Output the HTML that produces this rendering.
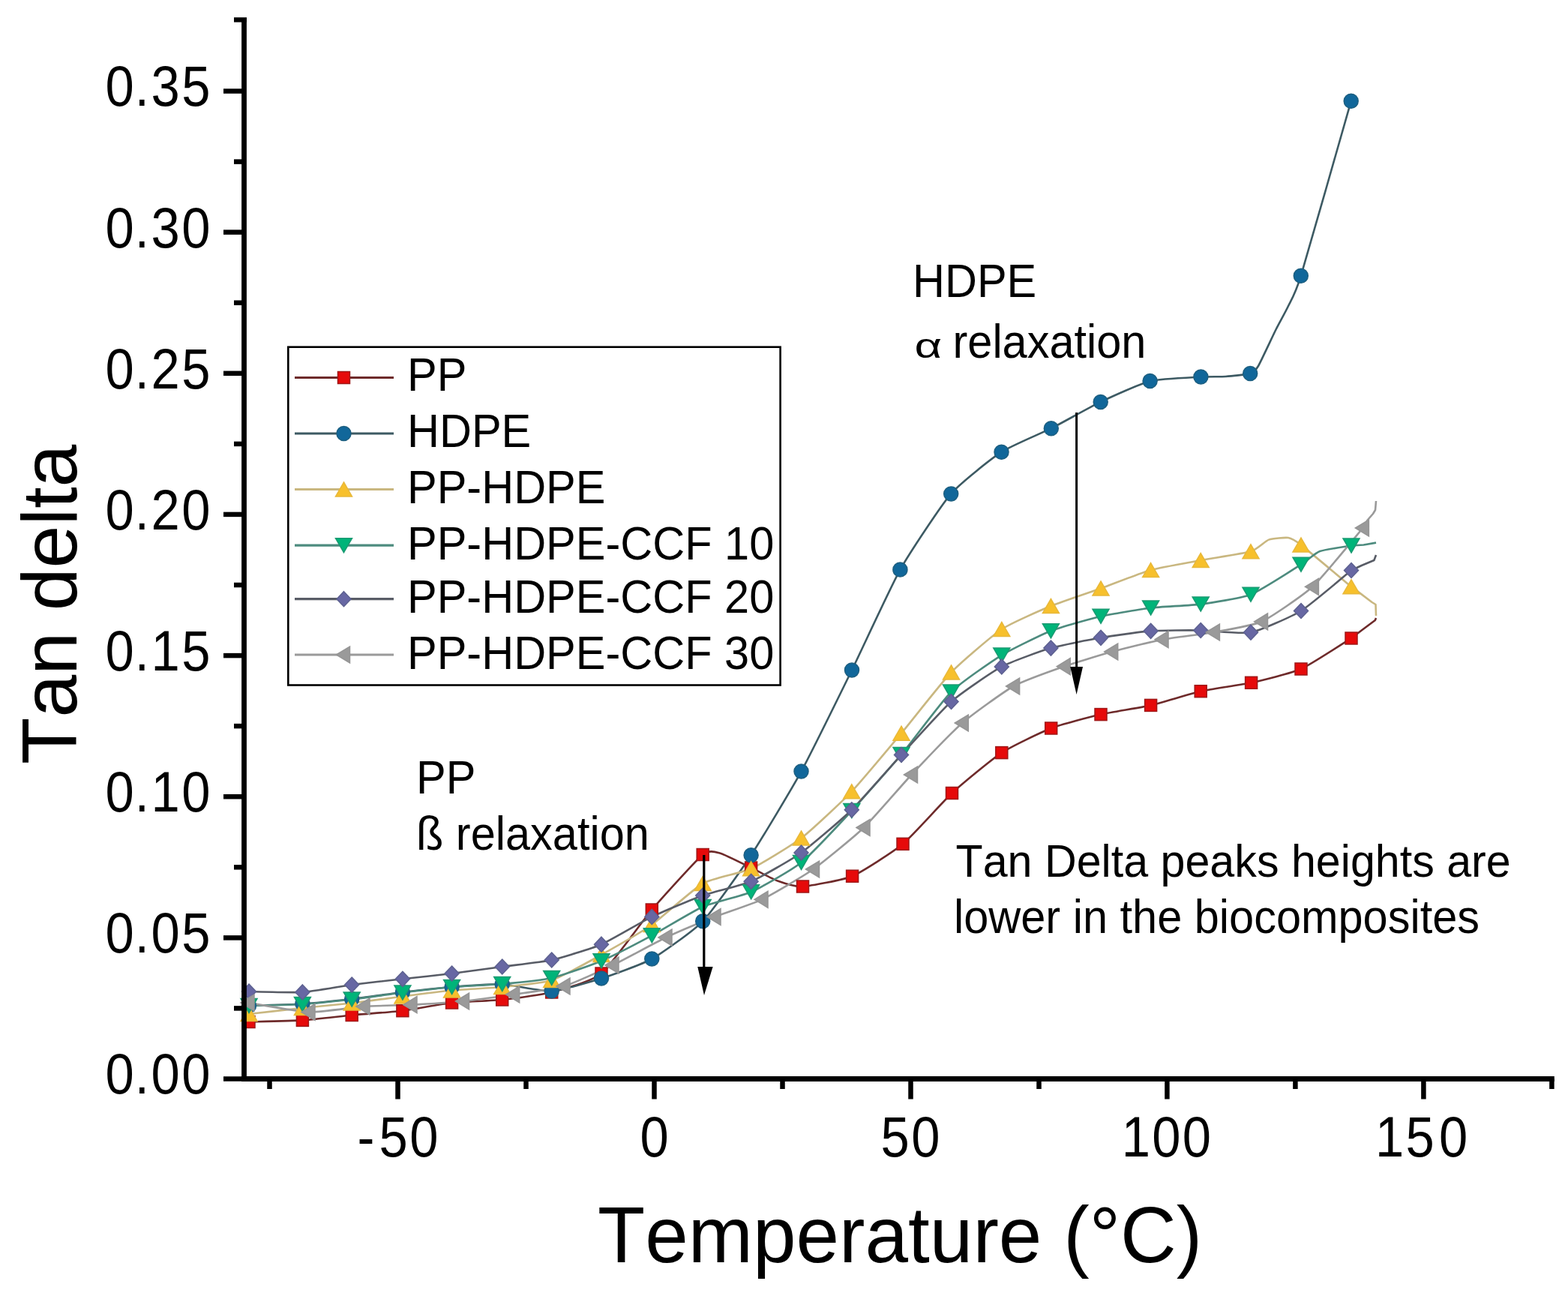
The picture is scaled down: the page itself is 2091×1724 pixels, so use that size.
<!DOCTYPE html>
<html><head><meta charset="utf-8"><title>Tan delta vs Temperature</title>
<style>html,body{margin:0;padding:0;background:#fff;}body{width:2091px;height:1724px;overflow:hidden;}svg{display:block;}text{font-family:"Liberation Sans",Arial,Helvetica,sans-serif;fill:#000;font-kerning:none;}</style>
</head><body>
<svg width="2091" height="1724" viewBox="0 0 2091 1724">
<rect width="2091" height="1724" fill="#fff"/>
<g fill="none" stroke-width="2.6" stroke-linejoin="round" stroke-linecap="butt">
<path d="M332.0,1362.5 C338.5,1362.3 390.8,1361.2 403.4,1360.4 C416.0,1359.6 457.0,1354.7 469.2,1353.5 C481.4,1352.3 524.7,1349.2 536.9,1347.7 C549.1,1346.2 590.4,1338.3 602.6,1337.0 C614.8,1335.7 657.5,1334.3 669.7,1333.0 C681.9,1331.7 723.6,1326.2 735.7,1323.0 C747.8,1319.8 789.8,1308.1 802.0,1298.0 C814.2,1287.9 856.9,1227.5 869.3,1213.0 C881.7,1198.5 928.8,1146.4 937.2,1139.5 C945.6,1132.6 954.7,1136.1 960.6,1137.7 C966.5,1139.3 994.6,1153.6 1001.6,1157.0 C1008.6,1160.4 1030.7,1172.2 1037.0,1174.5 C1043.3,1176.8 1061.4,1182.6 1070.5,1182.0 C1079.6,1181.4 1124.4,1173.4 1136.6,1168.2 C1148.8,1163.0 1191.8,1135.4 1204.0,1125.3 C1216.2,1115.2 1257.4,1068.7 1269.5,1057.5 C1281.6,1046.3 1323.7,1011.5 1335.8,1003.6 C1347.9,995.7 1389.6,975.7 1401.7,971.0 C1413.8,966.3 1455.8,955.4 1468.0,952.6 C1480.2,949.8 1522.4,943.2 1534.6,940.4 C1546.8,937.6 1588.9,924.5 1601.2,921.7 C1613.5,918.9 1656.3,913.0 1668.6,910.3 C1680.9,907.6 1722.8,897.4 1735.0,892.0 C1747.2,886.6 1795.9,854.8 1802.0,851.0 L1815.7,840.5 L1833.8,827.0 L1835.0,824.0" stroke="#6e2a2a"/>
<path d="M332.0,1341.0 C338.5,1340.8 390.8,1339.3 403.4,1338.5 C416.0,1337.7 457.0,1333.4 469.2,1332.0 C481.4,1330.6 524.7,1324.5 536.9,1323.0 C549.1,1321.5 590.4,1317.0 602.6,1316.0 C614.8,1315.0 657.5,1312.0 669.7,1312.5 C681.9,1313.0 723.6,1322.2 735.7,1321.5 C747.8,1320.8 789.8,1308.5 802.0,1304.6 C814.2,1300.7 856.9,1285.5 869.3,1278.5 C881.7,1271.5 925.1,1241.0 937.2,1228.3 C949.3,1215.6 989.6,1158.6 1001.6,1140.3 C1013.6,1122.0 1056.2,1051.2 1068.5,1028.6 C1080.8,1006.0 1123.9,918.2 1136.0,893.5 C1148.1,868.8 1188.3,781.2 1200.4,759.6 C1212.5,738.0 1255.8,672.8 1268.2,658.4 C1280.6,644.0 1323.3,610.7 1335.5,602.7 C1347.7,594.7 1389.7,577.3 1401.8,571.2 C1413.9,565.1 1455.6,541.7 1467.7,535.9 C1479.8,530.1 1521.3,511.2 1533.6,508.1 C1545.9,505.0 1592.2,503.1 1601.4,502.5 C1610.6,501.9 1628.5,502.4 1634.5,502.0 C1640.5,501.6 1663.2,499.4 1667.2,498.1 C1671.2,496.8 1674.8,493.4 1678.0,488.0 C1681.2,482.6 1698.0,446.3 1701.7,439.0 C1705.4,431.7 1715.0,414.5 1718.0,408.0 C1721.0,401.5 1727.1,392.8 1734.8,367.8 C1742.5,342.8 1795.6,156.2 1801.7,134.8" stroke="#3d5a63"/>
<path d="M332.0,1352.0 C338.5,1351.3 390.8,1345.3 403.4,1344.0 C416.0,1342.7 457.0,1338.9 469.2,1337.5 C481.4,1336.1 524.7,1330.1 536.9,1328.5 C549.1,1326.9 590.4,1321.6 602.6,1320.5 C614.8,1319.4 657.5,1317.2 669.7,1316.0 C681.9,1314.8 723.6,1310.9 735.7,1307.0 C747.8,1303.1 789.8,1279.8 802.0,1273.0 C814.2,1266.2 856.9,1241.7 869.3,1233.0 C881.7,1224.3 925.1,1184.8 937.2,1178.0 C949.3,1171.2 989.6,1163.8 1001.6,1158.3 C1013.6,1152.8 1056.2,1126.9 1068.5,1117.5 C1080.8,1108.1 1123.6,1068.1 1135.8,1055.3 C1148.0,1042.5 1189.8,992.3 1202.0,977.7 C1214.2,963.1 1256.2,909.2 1268.5,896.5 C1280.8,883.8 1323.6,847.1 1335.8,839.0 C1348.0,830.9 1389.3,813.0 1401.4,808.0 C1413.5,803.0 1455.8,788.9 1468.0,784.5 C1480.2,780.1 1522.4,763.5 1534.6,760.1 C1546.8,756.7 1589.0,749.4 1601.2,747.1 C1613.4,744.8 1659.7,737.8 1668.0,735.3 C1676.3,732.8 1687.4,721.3 1692.0,719.6 C1696.6,717.9 1714.1,716.4 1718.0,717.0 C1721.9,717.6 1727.3,720.6 1735.0,726.6 C1742.7,732.6 1795.9,777.2 1802.0,782.3 L1813.0,790.4 L1829.6,803.0 L1834.5,806.0 L1835.0,821.0" stroke="#c9b780"/>
<path d="M332.0,1341.0 C338.5,1340.8 390.8,1339.8 403.4,1339.0 C416.0,1338.2 457.0,1333.9 469.2,1332.5 C481.4,1331.1 524.7,1325.0 536.9,1323.5 C549.1,1322.0 590.4,1317.1 602.6,1316.0 C614.8,1314.9 657.5,1313.1 669.7,1312.0 C681.9,1310.9 723.6,1306.8 735.7,1304.0 C747.8,1301.2 789.8,1286.5 802.0,1281.3 C814.2,1276.1 856.9,1253.9 869.3,1247.3 C881.7,1240.7 925.1,1214.3 937.2,1209.0 C949.3,1203.7 989.6,1194.7 1001.6,1189.3 C1013.6,1183.9 1056.2,1159.9 1068.5,1150.0 C1080.8,1140.1 1123.6,1094.2 1135.8,1081.0 C1148.0,1067.8 1189.8,1020.5 1202.0,1006.0 C1214.2,991.5 1256.2,934.6 1268.5,922.5 C1280.8,910.4 1323.6,881.0 1335.8,873.6 C1348.0,866.2 1389.3,846.0 1401.4,841.3 C1413.5,836.6 1455.8,824.6 1468.0,821.8 C1480.2,819.0 1522.4,812.0 1534.6,810.5 C1546.8,809.0 1589.0,807.2 1601.2,805.6 C1613.4,804.0 1655.7,797.5 1668.0,792.7 C1680.3,787.9 1726.6,758.0 1735.0,752.7 C1743.4,747.4 1753.9,737.3 1760.0,735.0 C1766.1,732.7 1798.2,728.2 1802.0,727.5 L1818.5,726.5 L1835.0,723.6" stroke="#4d8b7e"/>
<path d="M332.0,1322.1 C338.5,1322.2 390.8,1323.7 403.4,1322.9 C416.0,1322.1 457.0,1314.6 469.2,1313.0 C481.4,1311.4 524.7,1306.7 536.9,1305.3 C549.1,1303.9 590.4,1299.5 602.6,1298.0 C614.8,1296.5 657.5,1290.7 669.7,1289.0 C681.9,1287.3 723.6,1282.7 735.7,1280.0 C747.8,1277.3 789.8,1264.5 802.0,1259.2 C814.2,1253.9 856.9,1228.4 869.3,1222.4 C881.7,1216.4 925.1,1198.3 937.2,1194.0 C949.3,1189.7 989.6,1180.5 1001.6,1175.3 C1013.6,1170.1 1056.2,1145.8 1068.5,1137.0 C1080.8,1128.2 1123.6,1091.8 1135.8,1079.8 C1148.0,1067.8 1189.8,1019.7 1202.0,1006.5 C1214.2,993.3 1256.2,946.3 1268.5,935.5 C1280.8,924.7 1323.6,895.4 1335.8,888.9 C1348.0,882.4 1389.3,867.6 1401.4,864.1 C1413.5,860.6 1455.8,852.4 1468.0,850.3 C1480.2,848.2 1522.4,842.2 1534.6,841.3 C1546.8,840.4 1589.0,840.3 1601.2,840.5 C1613.4,840.7 1655.7,845.6 1668.0,843.2 C1680.3,840.8 1722.7,822.1 1735.0,814.5 C1747.3,806.9 1795.9,765.5 1802.0,760.5 L1815.7,754.0 L1832.4,747.0 L1835.0,740.0" stroke="#585c66"/>
<path d="M331.0,1337.0 C338.4,1338.1 397.9,1349.0 412.0,1349.5 C426.1,1350.0 472.5,1342.9 485.0,1342.0 C497.5,1341.1 535.9,1340.3 548.0,1339.7 C560.1,1339.1 605.0,1336.3 617.5,1335.0 C630.0,1333.7 672.4,1327.8 684.7,1326.0 C697.0,1324.2 739.9,1318.6 752.0,1315.0 C764.1,1311.4 804.5,1293.0 817.0,1287.0 C829.5,1281.0 875.5,1255.9 888.0,1250.0 C900.5,1244.1 941.3,1227.1 953.0,1222.5 C964.7,1217.9 1003.9,1205.1 1016.0,1199.3 C1028.1,1193.5 1072.0,1167.8 1084.5,1159.0 C1097.0,1150.2 1140.0,1115.0 1152.0,1103.5 C1164.0,1092.0 1203.5,1045.8 1215.5,1033.0 C1227.5,1020.2 1270.8,974.8 1283.3,964.0 C1295.8,953.2 1339.1,921.9 1351.6,915.0 C1364.1,908.1 1407.2,892.8 1419.2,888.6 C1431.2,884.4 1470.7,872.3 1482.7,869.0 C1494.7,865.7 1537.6,855.1 1550.0,852.7 C1562.4,850.3 1606.3,845.2 1618.4,843.0 C1630.5,840.8 1670.4,834.4 1682.5,828.8 C1694.6,823.2 1738.0,793.7 1750.4,782.3 C1762.8,770.9 1811.3,711.2 1817.4,704.0 L1824.0,693.0 L1831.0,685.0 L1834.0,680.0 L1835.0,668.0" stroke="#9a9a9a"/>
</g>
<g>
<rect x="324.0" y="1354.5" width="16.0" height="16.0" fill="#e60a0a" stroke="#a01818" stroke-width="1.5"/>
<rect x="395.4" y="1352.4" width="16.0" height="16.0" fill="#e60a0a" stroke="#a01818" stroke-width="1.5"/>
<rect x="461.2" y="1345.5" width="16.0" height="16.0" fill="#e60a0a" stroke="#a01818" stroke-width="1.5"/>
<rect x="528.9" y="1339.7" width="16.0" height="16.0" fill="#e60a0a" stroke="#a01818" stroke-width="1.5"/>
<rect x="594.6" y="1329.0" width="16.0" height="16.0" fill="#e60a0a" stroke="#a01818" stroke-width="1.5"/>
<rect x="661.7" y="1325.0" width="16.0" height="16.0" fill="#e60a0a" stroke="#a01818" stroke-width="1.5"/>
<rect x="727.7" y="1315.0" width="16.0" height="16.0" fill="#e60a0a" stroke="#a01818" stroke-width="1.5"/>
<rect x="794.0" y="1290.0" width="16.0" height="16.0" fill="#e60a0a" stroke="#a01818" stroke-width="1.5"/>
<rect x="861.3" y="1205.0" width="16.0" height="16.0" fill="#e60a0a" stroke="#a01818" stroke-width="1.5"/>
<rect x="929.2" y="1131.5" width="16.0" height="16.0" fill="#e60a0a" stroke="#a01818" stroke-width="1.5"/>
<rect x="993.6" y="1149.0" width="16.0" height="16.0" fill="#e60a0a" stroke="#a01818" stroke-width="1.5"/>
<rect x="1062.5" y="1174.0" width="16.0" height="16.0" fill="#e60a0a" stroke="#a01818" stroke-width="1.5"/>
<rect x="1128.6" y="1160.2" width="16.0" height="16.0" fill="#e60a0a" stroke="#a01818" stroke-width="1.5"/>
<rect x="1196.0" y="1117.3" width="16.0" height="16.0" fill="#e60a0a" stroke="#a01818" stroke-width="1.5"/>
<rect x="1261.5" y="1049.5" width="16.0" height="16.0" fill="#e60a0a" stroke="#a01818" stroke-width="1.5"/>
<rect x="1327.8" y="995.6" width="16.0" height="16.0" fill="#e60a0a" stroke="#a01818" stroke-width="1.5"/>
<rect x="1393.7" y="963.0" width="16.0" height="16.0" fill="#e60a0a" stroke="#a01818" stroke-width="1.5"/>
<rect x="1460.0" y="944.6" width="16.0" height="16.0" fill="#e60a0a" stroke="#a01818" stroke-width="1.5"/>
<rect x="1526.6" y="932.4" width="16.0" height="16.0" fill="#e60a0a" stroke="#a01818" stroke-width="1.5"/>
<rect x="1593.2" y="913.7" width="16.0" height="16.0" fill="#e60a0a" stroke="#a01818" stroke-width="1.5"/>
<rect x="1660.6" y="902.3" width="16.0" height="16.0" fill="#e60a0a" stroke="#a01818" stroke-width="1.5"/>
<rect x="1727.0" y="884.0" width="16.0" height="16.0" fill="#e60a0a" stroke="#a01818" stroke-width="1.5"/>
<rect x="1794.0" y="843.0" width="16.0" height="16.0" fill="#e60a0a" stroke="#a01818" stroke-width="1.5"/>
</g>
<g>
<circle cx="332.0" cy="1341.0" r="9.5" fill="#11679a" stroke="#1d5f80" stroke-width="1.5"/>
<circle cx="403.4" cy="1338.5" r="9.5" fill="#11679a" stroke="#1d5f80" stroke-width="1.5"/>
<circle cx="469.2" cy="1332.0" r="9.5" fill="#11679a" stroke="#1d5f80" stroke-width="1.5"/>
<circle cx="536.9" cy="1323.0" r="9.5" fill="#11679a" stroke="#1d5f80" stroke-width="1.5"/>
<circle cx="602.6" cy="1316.0" r="9.5" fill="#11679a" stroke="#1d5f80" stroke-width="1.5"/>
<circle cx="669.7" cy="1312.5" r="9.5" fill="#11679a" stroke="#1d5f80" stroke-width="1.5"/>
<circle cx="735.7" cy="1321.5" r="9.5" fill="#11679a" stroke="#1d5f80" stroke-width="1.5"/>
<circle cx="802.0" cy="1304.6" r="9.5" fill="#11679a" stroke="#1d5f80" stroke-width="1.5"/>
<circle cx="869.3" cy="1278.5" r="9.5" fill="#11679a" stroke="#1d5f80" stroke-width="1.5"/>
<circle cx="937.2" cy="1228.3" r="9.5" fill="#11679a" stroke="#1d5f80" stroke-width="1.5"/>
<circle cx="1001.6" cy="1140.3" r="9.5" fill="#11679a" stroke="#1d5f80" stroke-width="1.5"/>
<circle cx="1068.5" cy="1028.6" r="9.5" fill="#11679a" stroke="#1d5f80" stroke-width="1.5"/>
<circle cx="1136.0" cy="893.5" r="9.5" fill="#11679a" stroke="#1d5f80" stroke-width="1.5"/>
<circle cx="1200.4" cy="759.6" r="9.5" fill="#11679a" stroke="#1d5f80" stroke-width="1.5"/>
<circle cx="1268.2" cy="658.4" r="9.5" fill="#11679a" stroke="#1d5f80" stroke-width="1.5"/>
<circle cx="1335.5" cy="602.7" r="9.5" fill="#11679a" stroke="#1d5f80" stroke-width="1.5"/>
<circle cx="1401.8" cy="571.2" r="9.5" fill="#11679a" stroke="#1d5f80" stroke-width="1.5"/>
<circle cx="1467.7" cy="535.9" r="9.5" fill="#11679a" stroke="#1d5f80" stroke-width="1.5"/>
<circle cx="1533.6" cy="508.1" r="9.5" fill="#11679a" stroke="#1d5f80" stroke-width="1.5"/>
<circle cx="1601.4" cy="502.5" r="9.5" fill="#11679a" stroke="#1d5f80" stroke-width="1.5"/>
<circle cx="1667.2" cy="498.1" r="9.5" fill="#11679a" stroke="#1d5f80" stroke-width="1.5"/>
<circle cx="1734.8" cy="367.8" r="9.5" fill="#11679a" stroke="#1d5f80" stroke-width="1.5"/>
<circle cx="1801.7" cy="134.8" r="9.5" fill="#11679a" stroke="#1d5f80" stroke-width="1.5"/>
</g>
<g>
<polygon points="332.0,1342.5 343.0,1361.5 321.0,1361.5" fill="#f7c02c" stroke="#e8b83a" stroke-width="1.5"/>
<polygon points="403.4,1334.5 414.4,1353.5 392.4,1353.5" fill="#f7c02c" stroke="#e8b83a" stroke-width="1.5"/>
<polygon points="469.2,1328.0 480.2,1347.0 458.2,1347.0" fill="#f7c02c" stroke="#e8b83a" stroke-width="1.5"/>
<polygon points="536.9,1319.0 547.9,1338.0 525.9,1338.0" fill="#f7c02c" stroke="#e8b83a" stroke-width="1.5"/>
<polygon points="602.6,1311.0 613.6,1330.0 591.6,1330.0" fill="#f7c02c" stroke="#e8b83a" stroke-width="1.5"/>
<polygon points="669.7,1306.5 680.7,1325.5 658.7,1325.5" fill="#f7c02c" stroke="#e8b83a" stroke-width="1.5"/>
<polygon points="735.7,1297.5 746.7,1316.5 724.7,1316.5" fill="#f7c02c" stroke="#e8b83a" stroke-width="1.5"/>
<polygon points="802.0,1263.5 813.0,1282.5 791.0,1282.5" fill="#f7c02c" stroke="#e8b83a" stroke-width="1.5"/>
<polygon points="869.3,1223.5 880.3,1242.5 858.3,1242.5" fill="#f7c02c" stroke="#e8b83a" stroke-width="1.5"/>
<polygon points="937.2,1168.5 948.2,1187.5 926.2,1187.5" fill="#f7c02c" stroke="#e8b83a" stroke-width="1.5"/>
<polygon points="1001.6,1148.8 1012.6,1167.8 990.6,1167.8" fill="#f7c02c" stroke="#e8b83a" stroke-width="1.5"/>
<polygon points="1068.5,1108.0 1079.5,1127.0 1057.5,1127.0" fill="#f7c02c" stroke="#e8b83a" stroke-width="1.5"/>
<polygon points="1135.8,1045.8 1146.8,1064.8 1124.8,1064.8" fill="#f7c02c" stroke="#e8b83a" stroke-width="1.5"/>
<polygon points="1202.0,968.2 1213.0,987.2 1191.0,987.2" fill="#f7c02c" stroke="#e8b83a" stroke-width="1.5"/>
<polygon points="1268.5,887.0 1279.5,906.0 1257.5,906.0" fill="#f7c02c" stroke="#e8b83a" stroke-width="1.5"/>
<polygon points="1335.8,829.5 1346.8,848.5 1324.8,848.5" fill="#f7c02c" stroke="#e8b83a" stroke-width="1.5"/>
<polygon points="1401.4,798.5 1412.4,817.5 1390.4,817.5" fill="#f7c02c" stroke="#e8b83a" stroke-width="1.5"/>
<polygon points="1468.0,775.0 1479.0,794.0 1457.0,794.0" fill="#f7c02c" stroke="#e8b83a" stroke-width="1.5"/>
<polygon points="1534.6,750.6 1545.6,769.6 1523.6,769.6" fill="#f7c02c" stroke="#e8b83a" stroke-width="1.5"/>
<polygon points="1601.2,737.6 1612.2,756.6 1590.2,756.6" fill="#f7c02c" stroke="#e8b83a" stroke-width="1.5"/>
<polygon points="1668.0,725.8 1679.0,744.8 1657.0,744.8" fill="#f7c02c" stroke="#e8b83a" stroke-width="1.5"/>
<polygon points="1735.0,717.1 1746.0,736.1 1724.0,736.1" fill="#f7c02c" stroke="#e8b83a" stroke-width="1.5"/>
<polygon points="1802.0,772.8 1813.0,791.8 1791.0,791.8" fill="#f7c02c" stroke="#e8b83a" stroke-width="1.5"/>
</g>
<g>
<polygon points="332.0,1350.5 343.0,1331.5 321.0,1331.5" fill="#00b479" stroke="#1a9a72" stroke-width="1.5"/>
<polygon points="403.4,1348.5 414.4,1329.5 392.4,1329.5" fill="#00b479" stroke="#1a9a72" stroke-width="1.5"/>
<polygon points="469.2,1342.0 480.2,1323.0 458.2,1323.0" fill="#00b479" stroke="#1a9a72" stroke-width="1.5"/>
<polygon points="536.9,1333.0 547.9,1314.0 525.9,1314.0" fill="#00b479" stroke="#1a9a72" stroke-width="1.5"/>
<polygon points="602.6,1325.5 613.6,1306.5 591.6,1306.5" fill="#00b479" stroke="#1a9a72" stroke-width="1.5"/>
<polygon points="669.7,1321.5 680.7,1302.5 658.7,1302.5" fill="#00b479" stroke="#1a9a72" stroke-width="1.5"/>
<polygon points="735.7,1313.5 746.7,1294.5 724.7,1294.5" fill="#00b479" stroke="#1a9a72" stroke-width="1.5"/>
<polygon points="802.0,1290.8 813.0,1271.8 791.0,1271.8" fill="#00b479" stroke="#1a9a72" stroke-width="1.5"/>
<polygon points="869.3,1256.8 880.3,1237.8 858.3,1237.8" fill="#00b479" stroke="#1a9a72" stroke-width="1.5"/>
<polygon points="937.2,1218.5 948.2,1199.5 926.2,1199.5" fill="#00b479" stroke="#1a9a72" stroke-width="1.5"/>
<polygon points="1001.6,1198.8 1012.6,1179.8 990.6,1179.8" fill="#00b479" stroke="#1a9a72" stroke-width="1.5"/>
<polygon points="1068.5,1159.5 1079.5,1140.5 1057.5,1140.5" fill="#00b479" stroke="#1a9a72" stroke-width="1.5"/>
<polygon points="1135.8,1090.5 1146.8,1071.5 1124.8,1071.5" fill="#00b479" stroke="#1a9a72" stroke-width="1.5"/>
<polygon points="1202.0,1015.5 1213.0,996.5 1191.0,996.5" fill="#00b479" stroke="#1a9a72" stroke-width="1.5"/>
<polygon points="1268.5,932.0 1279.5,913.0 1257.5,913.0" fill="#00b479" stroke="#1a9a72" stroke-width="1.5"/>
<polygon points="1335.8,883.1 1346.8,864.1 1324.8,864.1" fill="#00b479" stroke="#1a9a72" stroke-width="1.5"/>
<polygon points="1401.4,850.8 1412.4,831.8 1390.4,831.8" fill="#00b479" stroke="#1a9a72" stroke-width="1.5"/>
<polygon points="1468.0,831.3 1479.0,812.3 1457.0,812.3" fill="#00b479" stroke="#1a9a72" stroke-width="1.5"/>
<polygon points="1534.6,820.0 1545.6,801.0 1523.6,801.0" fill="#00b479" stroke="#1a9a72" stroke-width="1.5"/>
<polygon points="1601.2,815.1 1612.2,796.1 1590.2,796.1" fill="#00b479" stroke="#1a9a72" stroke-width="1.5"/>
<polygon points="1668.0,802.2 1679.0,783.2 1657.0,783.2" fill="#00b479" stroke="#1a9a72" stroke-width="1.5"/>
<polygon points="1735.0,762.2 1746.0,743.2 1724.0,743.2" fill="#00b479" stroke="#1a9a72" stroke-width="1.5"/>
<polygon points="1802.0,737.0 1813.0,718.0 1791.0,718.0" fill="#00b479" stroke="#1a9a72" stroke-width="1.5"/>
</g>
<g>
<polygon points="332.0,1312.1 341.5,1322.1 332.0,1332.1 322.5,1322.1" fill="#6767a3" stroke="#5d6190" stroke-width="1.5"/>
<polygon points="403.4,1312.9 412.9,1322.9 403.4,1332.9 393.9,1322.9" fill="#6767a3" stroke="#5d6190" stroke-width="1.5"/>
<polygon points="469.2,1303.0 478.7,1313.0 469.2,1323.0 459.7,1313.0" fill="#6767a3" stroke="#5d6190" stroke-width="1.5"/>
<polygon points="536.9,1295.3 546.4,1305.3 536.9,1315.3 527.4,1305.3" fill="#6767a3" stroke="#5d6190" stroke-width="1.5"/>
<polygon points="602.6,1288.0 612.1,1298.0 602.6,1308.0 593.1,1298.0" fill="#6767a3" stroke="#5d6190" stroke-width="1.5"/>
<polygon points="669.7,1279.0 679.2,1289.0 669.7,1299.0 660.2,1289.0" fill="#6767a3" stroke="#5d6190" stroke-width="1.5"/>
<polygon points="735.7,1270.0 745.2,1280.0 735.7,1290.0 726.2,1280.0" fill="#6767a3" stroke="#5d6190" stroke-width="1.5"/>
<polygon points="802.0,1249.2 811.5,1259.2 802.0,1269.2 792.5,1259.2" fill="#6767a3" stroke="#5d6190" stroke-width="1.5"/>
<polygon points="869.3,1212.4 878.8,1222.4 869.3,1232.4 859.8,1222.4" fill="#6767a3" stroke="#5d6190" stroke-width="1.5"/>
<polygon points="937.2,1184.0 946.7,1194.0 937.2,1204.0 927.7,1194.0" fill="#6767a3" stroke="#5d6190" stroke-width="1.5"/>
<polygon points="1001.6,1165.3 1011.1,1175.3 1001.6,1185.3 992.1,1175.3" fill="#6767a3" stroke="#5d6190" stroke-width="1.5"/>
<polygon points="1068.5,1127.0 1078.0,1137.0 1068.5,1147.0 1059.0,1137.0" fill="#6767a3" stroke="#5d6190" stroke-width="1.5"/>
<polygon points="1135.8,1069.8 1145.3,1079.8 1135.8,1089.8 1126.3,1079.8" fill="#6767a3" stroke="#5d6190" stroke-width="1.5"/>
<polygon points="1202.0,996.5 1211.5,1006.5 1202.0,1016.5 1192.5,1006.5" fill="#6767a3" stroke="#5d6190" stroke-width="1.5"/>
<polygon points="1268.5,925.5 1278.0,935.5 1268.5,945.5 1259.0,935.5" fill="#6767a3" stroke="#5d6190" stroke-width="1.5"/>
<polygon points="1335.8,878.9 1345.3,888.9 1335.8,898.9 1326.3,888.9" fill="#6767a3" stroke="#5d6190" stroke-width="1.5"/>
<polygon points="1401.4,854.1 1410.9,864.1 1401.4,874.1 1391.9,864.1" fill="#6767a3" stroke="#5d6190" stroke-width="1.5"/>
<polygon points="1468.0,840.3 1477.5,850.3 1468.0,860.3 1458.5,850.3" fill="#6767a3" stroke="#5d6190" stroke-width="1.5"/>
<polygon points="1534.6,831.3 1544.1,841.3 1534.6,851.3 1525.1,841.3" fill="#6767a3" stroke="#5d6190" stroke-width="1.5"/>
<polygon points="1601.2,830.5 1610.7,840.5 1601.2,850.5 1591.7,840.5" fill="#6767a3" stroke="#5d6190" stroke-width="1.5"/>
<polygon points="1668.0,833.2 1677.5,843.2 1668.0,853.2 1658.5,843.2" fill="#6767a3" stroke="#5d6190" stroke-width="1.5"/>
<polygon points="1735.0,804.5 1744.5,814.5 1735.0,824.5 1725.5,814.5" fill="#6767a3" stroke="#5d6190" stroke-width="1.5"/>
<polygon points="1802.0,750.5 1811.5,760.5 1802.0,770.5 1792.5,760.5" fill="#6767a3" stroke="#5d6190" stroke-width="1.5"/>
</g>
<g>
<polygon points="321.0,1337.0 339.0,1326.0 339.0,1348.0" fill="#9a9a9a" stroke="#959595" stroke-width="1.5"/>
<polygon points="402.0,1349.5 420.0,1338.5 420.0,1360.5" fill="#9a9a9a" stroke="#959595" stroke-width="1.5"/>
<polygon points="475.0,1342.0 493.0,1331.0 493.0,1353.0" fill="#9a9a9a" stroke="#959595" stroke-width="1.5"/>
<polygon points="538.0,1339.7 556.0,1328.7 556.0,1350.7" fill="#9a9a9a" stroke="#959595" stroke-width="1.5"/>
<polygon points="607.5,1335.0 625.5,1324.0 625.5,1346.0" fill="#9a9a9a" stroke="#959595" stroke-width="1.5"/>
<polygon points="674.7,1326.0 692.7,1315.0 692.7,1337.0" fill="#9a9a9a" stroke="#959595" stroke-width="1.5"/>
<polygon points="742.0,1315.0 760.0,1304.0 760.0,1326.0" fill="#9a9a9a" stroke="#959595" stroke-width="1.5"/>
<polygon points="807.0,1287.0 825.0,1276.0 825.0,1298.0" fill="#9a9a9a" stroke="#959595" stroke-width="1.5"/>
<polygon points="878.0,1250.0 896.0,1239.0 896.0,1261.0" fill="#9a9a9a" stroke="#959595" stroke-width="1.5"/>
<polygon points="943.0,1222.5 961.0,1211.5 961.0,1233.5" fill="#9a9a9a" stroke="#959595" stroke-width="1.5"/>
<polygon points="1006.0,1199.3 1024.0,1188.3 1024.0,1210.3" fill="#9a9a9a" stroke="#959595" stroke-width="1.5"/>
<polygon points="1074.5,1159.0 1092.5,1148.0 1092.5,1170.0" fill="#9a9a9a" stroke="#959595" stroke-width="1.5"/>
<polygon points="1142.0,1103.5 1160.0,1092.5 1160.0,1114.5" fill="#9a9a9a" stroke="#959595" stroke-width="1.5"/>
<polygon points="1205.5,1033.0 1223.5,1022.0 1223.5,1044.0" fill="#9a9a9a" stroke="#959595" stroke-width="1.5"/>
<polygon points="1273.3,964.0 1291.3,953.0 1291.3,975.0" fill="#9a9a9a" stroke="#959595" stroke-width="1.5"/>
<polygon points="1341.6,915.0 1359.6,904.0 1359.6,926.0" fill="#9a9a9a" stroke="#959595" stroke-width="1.5"/>
<polygon points="1409.2,888.6 1427.2,877.6 1427.2,899.6" fill="#9a9a9a" stroke="#959595" stroke-width="1.5"/>
<polygon points="1472.7,869.0 1490.7,858.0 1490.7,880.0" fill="#9a9a9a" stroke="#959595" stroke-width="1.5"/>
<polygon points="1540.0,852.7 1558.0,841.7 1558.0,863.7" fill="#9a9a9a" stroke="#959595" stroke-width="1.5"/>
<polygon points="1608.4,843.0 1626.4,832.0 1626.4,854.0" fill="#9a9a9a" stroke="#959595" stroke-width="1.5"/>
<polygon points="1672.5,828.8 1690.5,817.8 1690.5,839.8" fill="#9a9a9a" stroke="#959595" stroke-width="1.5"/>
<polygon points="1740.4,782.3 1758.4,771.3 1758.4,793.3" fill="#9a9a9a" stroke="#959595" stroke-width="1.5"/>
<polygon points="1807.4,704.0 1825.4,693.0 1825.4,715.0" fill="#9a9a9a" stroke="#959595" stroke-width="1.5"/>
</g>
<g stroke="#000" stroke-linecap="butt">
<line x1="325.5" y1="26.4" x2="325.5" y2="1442" stroke-width="6.8"/>
<line x1="312" y1="26.4" x2="329" y2="26.4" stroke-width="6.4"/>
<line x1="322" y1="1438.5" x2="2072.8" y2="1438.5" stroke-width="6.8"/>
<line x1="298" y1="1438.5" x2="325" y2="1438.5" stroke-width="6.5"/>
<line x1="298" y1="1250.4" x2="325" y2="1250.4" stroke-width="6.5"/>
<line x1="298" y1="1062.2" x2="325" y2="1062.2" stroke-width="6.5"/>
<line x1="298" y1="874.1" x2="325" y2="874.1" stroke-width="6.5"/>
<line x1="298" y1="685.9" x2="325" y2="685.9" stroke-width="6.5"/>
<line x1="298" y1="497.8" x2="325" y2="497.8" stroke-width="6.5"/>
<line x1="298" y1="309.6" x2="325" y2="309.6" stroke-width="6.5"/>
<line x1="298" y1="121.5" x2="325" y2="121.5" stroke-width="6.5"/>
<line x1="312" y1="1344.4" x2="325" y2="1344.4" stroke-width="6.5"/>
<line x1="312" y1="1156.3" x2="325" y2="1156.3" stroke-width="6.5"/>
<line x1="312" y1="968.1" x2="325" y2="968.1" stroke-width="6.5"/>
<line x1="312" y1="780.0" x2="325" y2="780.0" stroke-width="6.5"/>
<line x1="312" y1="591.9" x2="325" y2="591.9" stroke-width="6.5"/>
<line x1="312" y1="403.7" x2="325" y2="403.7" stroke-width="6.5"/>
<line x1="312" y1="215.6" x2="325" y2="215.6" stroke-width="6.5"/>
<line x1="530.5" y1="1438" x2="530.5" y2="1465.5" stroke-width="6.5"/>
<line x1="872.5" y1="1438" x2="872.5" y2="1465.5" stroke-width="6.5"/>
<line x1="1214.5" y1="1438" x2="1214.5" y2="1465.5" stroke-width="6.5"/>
<line x1="1556.4" y1="1438" x2="1556.4" y2="1465.5" stroke-width="6.5"/>
<line x1="1898.4" y1="1438" x2="1898.4" y2="1465.5" stroke-width="6.5"/>
<line x1="359.5" y1="1438" x2="359.5" y2="1452" stroke-width="6.5"/>
<line x1="701.5" y1="1438" x2="701.5" y2="1452" stroke-width="6.5"/>
<line x1="1043.5" y1="1438" x2="1043.5" y2="1452" stroke-width="6.5"/>
<line x1="1385.5" y1="1438" x2="1385.5" y2="1452" stroke-width="6.5"/>
<line x1="1727.4" y1="1438" x2="1727.4" y2="1452" stroke-width="6.5"/>
<line x1="2069.4" y1="1438" x2="2069.4" y2="1452" stroke-width="6.5"/>
</g>
<text transform="scale(0.910,1)" x="175.3 208.0 242.3 287.1" y="1458.5" font-size="75.5" text-anchor="middle">0.00</text>
<text transform="scale(0.910,1)" x="175.3 208.0 242.3 287.1" y="1270.4" font-size="75.5" text-anchor="middle">0.05</text>
<text transform="scale(0.910,1)" x="175.3 208.0 242.3 287.1" y="1082.2" font-size="75.5" text-anchor="middle">0.10</text>
<text transform="scale(0.910,1)" x="175.3 208.0 242.3 287.1" y="894.1" font-size="75.5" text-anchor="middle">0.15</text>
<text transform="scale(0.910,1)" x="175.3 208.0 242.3 287.1" y="705.9" font-size="75.5" text-anchor="middle">0.20</text>
<text transform="scale(0.910,1)" x="175.3 208.0 242.3 287.1" y="517.8" font-size="75.5" text-anchor="middle">0.25</text>
<text transform="scale(0.910,1)" x="175.3 208.0 242.3 287.1" y="329.6" font-size="75.5" text-anchor="middle">0.30</text>
<text transform="scale(0.910,1)" x="175.3 208.0 242.3 287.1" y="141.5" font-size="75.5" text-anchor="middle">0.35</text>
<text transform="scale(0.910,1)" x="536.3 576.4 621.2" y="1542.5" font-size="75.5" text-anchor="middle">-50</text>
<text transform="scale(0.910,1)" x="958.8" y="1542.5" font-size="75.5" text-anchor="middle">0</text>
<text transform="scale(0.910,1)" x="1311.6 1356.5" y="1542.5" font-size="75.5" text-anchor="middle">50</text>
<text transform="scale(0.910,1)" x="1664.8 1709.1 1753.8" y="1542.5" font-size="75.5" text-anchor="middle">100</text>
<text transform="scale(0.910,1)" x="2036.3 2081.0 2129.7" y="1542.5" font-size="75.5" text-anchor="middle">150</text>
<text transform="translate(797.0,1682.5) scale(1.000,1.015)" font-size="103.5">Temperature (°C)</text>
<text transform="translate(101.5,1019) rotate(-90) scale(1,1.015)" x="0" y="0" font-size="102.3">Tan delta</text>
<rect x="384.3" y="462.7" width="656.3" height="450.8" fill="none" stroke="#000" stroke-width="2.6"/>
<line x1="393" y1="503.5" x2="525" y2="503.5" stroke="#6e2a2a" stroke-width="3.2"/>
<rect x="450.5" y="495.5" width="16.0" height="16.0" fill="#e60a0a" stroke="#a01818" stroke-width="1.5"/>
<text transform="translate(543.0,521.0) scale(1.000,1.045)" font-size="59.5">PP</text>
<line x1="393" y1="578.0" x2="525" y2="578.0" stroke="#3d5a63" stroke-width="3.2"/>
<circle cx="458.5" cy="578.0" r="9.5" fill="#11679a" stroke="#1d5f80" stroke-width="1.5"/>
<text transform="translate(543.0,596.0) scale(1.000,1.045)" font-size="59.5">HDPE</text>
<line x1="393" y1="652.5" x2="525" y2="652.5" stroke="#c9b780" stroke-width="3.2"/>
<polygon points="458.5,643.0 469.5,662.0 447.5,662.0" fill="#f7c02c" stroke="#e8b83a" stroke-width="1.5"/>
<text transform="translate(543.0,671.0) scale(1.000,1.045)" font-size="59.5">PP-HDPE</text>
<line x1="393" y1="727.2" x2="525" y2="727.2" stroke="#4d8b7e" stroke-width="3.2"/>
<polygon points="458.5,736.7 469.5,717.7 447.5,717.7" fill="#00b479" stroke="#1a9a72" stroke-width="1.5"/>
<text transform="translate(543.0,745.6) scale(1.000,1.045)" font-size="59.5">PP-HDPE-CCF 10</text>
<line x1="393" y1="798.7" x2="525" y2="798.7" stroke="#585c66" stroke-width="3.2"/>
<polygon points="458.5,788.7 468.0,798.7 458.5,808.7 449.0,798.7" fill="#6767a3" stroke="#5d6190" stroke-width="1.5"/>
<text transform="translate(543.0,817.0) scale(1.000,1.045)" font-size="59.5">PP-HDPE-CCF 20</text>
<line x1="393" y1="873.0" x2="525" y2="873.0" stroke="#9a9a9a" stroke-width="3.2"/>
<polygon points="448.5,873.0 466.5,862.0 466.5,884.0" fill="#9a9a9a" stroke="#959595" stroke-width="1.5"/>
<text transform="translate(543.0,891.6) scale(1.000,1.045)" font-size="59.5">PP-HDPE-CCF 30</text>
<text transform="translate(1217.0,396.0) scale(1.000,1.045)" font-size="59.5">HDPE</text>
<text transform="translate(1219.5,477.2) scale(1.220,0.900)" font-size="52.0">α</text>
<text transform="translate(1270.5,477.2) scale(1.000,1.045)" font-size="59.5">relaxation</text>
<text transform="translate(555.0,1057.7) scale(1.000,1.045)" font-size="59.5">PP</text>
<text transform="translate(555.0,1132.5) scale(1.000,1.045)" font-size="59.5">ß relaxation</text>
<text transform="translate(1274.5,1169.0) scale(1.000,1.045)" font-size="59.2">Tan Delta peaks heights are</text>
<text transform="translate(1272.0,1244.4) scale(1.000,1.045)" font-size="59.5">lower in the biocomposites</text>
<g fill="#000" stroke="#000">
<line x1="938.8" y1="1140" x2="938.8" y2="1295" stroke-width="3.2"/>
<polygon points="930.3,1289 950.6,1289 939,1327" stroke="none"/>
<line x1="1435.6" y1="550" x2="1435.6" y2="895" stroke-width="3"/>
<polygon points="1427.2,889 1444,889 1435.6,926" stroke="none"/>
</g>
</svg>
</body></html>
